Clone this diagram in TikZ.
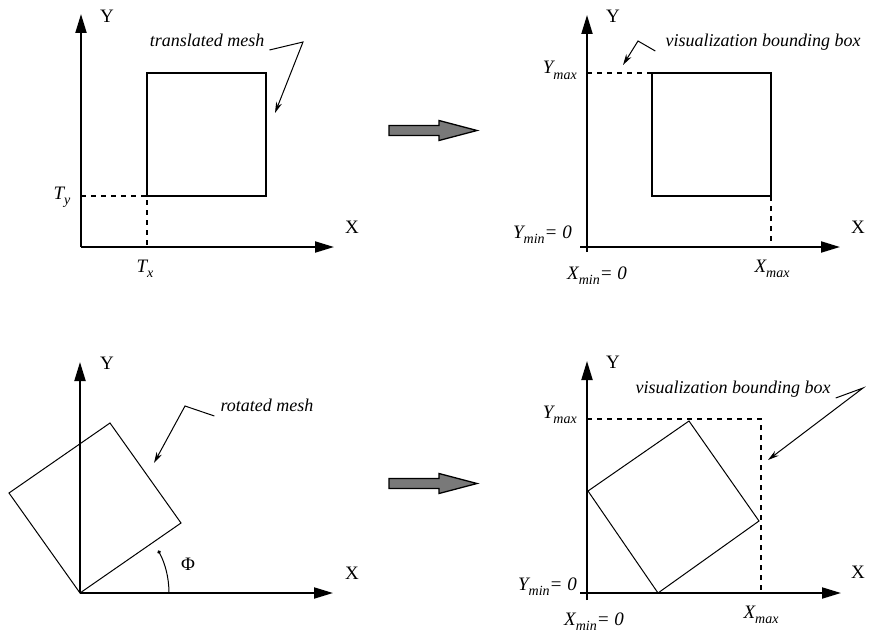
\documentclass[tikz,border=0pt]{standalone}
\usepackage{fontspec}
\setmainfont{Liberation Serif}
\usetikzlibrary{arrows.meta}
\newcommand\lsub[1]{\raisebox{-0.3em}{\fontsize{14}{14}\selectfont #1}}
\begin{document}
\begin{tikzpicture}[x=1pt,y=-1pt,
  axis/.style={line width=2pt,-{Triangle[length=19pt,width=11pt]}},
  meshbox/.style={line width=2pt},
  rotbox/.style={line width=1pt},
  guide/.style={line width=2pt,dash pattern=on 5pt off 5pt},
  leader/.style={line width=1pt,-{Stealth[length=11pt,width=6pt]}},
  lbl/.style={inner sep=0pt,font=\fontsize{19}{21}\selectfont},
  ilbl/.style={inner sep=0pt,font=\fontsize{19}{21}\selectfont\itshape},
  note/.style={inner sep=0pt,font=\fontsize{18}{20}\selectfont\itshape},
  bigarrow/.style={draw=black,line width=1.3pt,fill=gray!95!black!100}]
\useasboundingbox (0,0) rectangle (869,634);

% ---------- panel 1 (translated mesh) ----------
\coordinate (o1) at (81,247);
\coordinate (y1) at (81,14);
\coordinate (x1) at (334,247);
\draw[axis] (o1) -- (y1);
\draw[axis] (o1) -- (x1);
\coordinate (s1a) at (147,73);
\coordinate (s1b) at (266,196);
\coordinate (s1c) at (147,196);
\draw[meshbox] (s1a) rectangle (s1b);
\coordinate (ty) at (81,196);
\coordinate (tx) at (147,247);
\draw[guide] (ty) -- (s1c) -- (tx);
\node[lbl,anchor=base] (Y1) at (107,23) {Y};
\node[lbl,anchor=base] (X1) at (352,233) {X};
\node[ilbl,anchor=base] (Ty) at (62,199) {T\lsub{y}};
\node[ilbl,anchor=base] (Tx) at (145,272) {T\lsub{x}};
\node[note,anchor=base] (tm) at (207,46) {translated mesh};
\coordinate (tmB) at (303,42);
\coordinate (tmC) at (275,113);
\draw[leader] ([xshift=5pt,yshift=-4pt]tm.base east) -- (tmB) -- (tmC);

% big arrows
\coordinate (ba1) at (389,130.5);
\draw[bigarrow] (389,125.5) -- (439,125.5) -- (439,120.5) -- (477,130.5) -- (439,140.5) -- (439,135.5) -- (389,135.5) -- cycle;
\draw[bigarrow] (389,478.5) -- (439,478.5) -- (439,473.5) -- (477,483.5) -- (439,493.5) -- (439,488.5) -- (389,488.5) -- cycle;

% ---------- panel 2 ----------
\coordinate (o2) at (587,252);
\coordinate (y2) at (587,15);
\coordinate (x2s) at (580,247);
\coordinate (x2) at (840,247);
\draw[axis] (o2) -- (y2);
\draw[axis] (x2s) -- (x2);
\coordinate (s2a) at (652,73);
\coordinate (s2b) at (771,196);
\draw[meshbox] (s2a) rectangle (s2b);
\coordinate (ym2) at (587,73);
\coordinate (xm2) at (771,247);
\draw[guide] (ym2) -- (s2a);
\draw[guide] (s2b) -- (xm2);
\node[lbl,anchor=base] (Y2) at (613,23) {Y};
\node[lbl,anchor=base] (X2) at (858,233) {X};
\node[ilbl,anchor=base east] (Ymax2) at (577,74) {Y\lsub{max}};
\node[ilbl,anchor=base east] (Ymin2) at (572,238) {Y\lsub{min}= 0};
\node[ilbl,anchor=base] (Xmin2) at (597,279) {X\lsub{min}= 0};
\node[ilbl,anchor=base] (Xmax2) at (772,272) {X\lsub{max}};
\node[note,anchor=base] (vb1) at (763,46) {visualization bounding box};
\coordinate (vb1B) at (638,41);
\coordinate (vb1C) at (623,65);
\draw[leader] ([xshift=-10pt,yshift=-5pt]vb1.base west) -- (vb1B) -- (vb1C);

% ---------- panel 3 (rotated mesh) ----------
\coordinate (o3) at (80,593);
\coordinate (y3) at (80,362);
\coordinate (x3) at (333,593);
\draw[axis] (o3) -- (y3);
\draw[axis] (o3) -- (x3);
\coordinate (r3a) at (181,523);
\coordinate (r3b) at (110,423);
\coordinate (r3c) at (9,493);
\draw[rotbox] (o3) -- (r3a) -- (r3b) -- (r3c) -- cycle;
\node[lbl,anchor=base] (Y3) at (107,369) {Y};
\node[lbl,anchor=base] (X3) at (352,579) {X};
\node[lbl,anchor=base] (phi) at (188,570) {Φ};
\coordinate (arcS) at (169,593);
\draw[line width=1pt,-{Circle[length=3.5pt]}] (arcS) arc[start angle=0,end angle=-28.5,radius=89];
\node[note,anchor=base] (rm) at (267,411) {rotated mesh};
\coordinate (rmB) at (185,406);
\coordinate (rmC) at (154,463);
\draw[leader] ([xshift=-6pt,yshift=-5pt]rm.base west) -- (rmB) -- (rmC);

% ---------- panel 4 ----------
\coordinate (o4) at (587,600);
\coordinate (y4) at (587,361);
\coordinate (x4s) at (580,593);
\coordinate (x4) at (841,593);
\draw[axis] (o4) -- (y4);
\draw[axis] (x4s) -- (x4);
\coordinate (r4a) at (588,491);
\coordinate (r4b) at (689,421);
\coordinate (r4c) at (759,521);
\coordinate (r4d) at (658,593);
\draw[rotbox] (r4a) -- (r4b) -- (r4c) -- (r4d) -- cycle;
\coordinate (bb1) at (587,419);
\coordinate (bb2) at (761,419);
\coordinate (bb3) at (761,593);
\draw[guide] (bb1) -- (bb2) -- (bb3);
\node[lbl,anchor=base] (Y4) at (613,368) {Y};
\node[lbl,anchor=base] (X4) at (858,578) {X};
\node[ilbl,anchor=base east] (Ymax4) at (577,418) {Y\lsub{max}};
\node[ilbl,anchor=base east] (Ymin4) at (577,590) {Y\lsub{min}= 0};
\node[ilbl,anchor=base] (Xmin4) at (594,625) {X\lsub{min}= 0};
\node[ilbl,anchor=base] (Xmax4) at (761,618) {X\lsub{max}};
\node[note,anchor=base] (vb2) at (733,393) {visualization bounding box};
\coordinate (vb2B) at (863,388);
\coordinate (vb2C) at (768,460);
\draw[leader] ([xshift=5pt,yshift=-5pt]vb2.base east) -- (vb2B) -- (vb2C);
\end{tikzpicture}
\end{document}
